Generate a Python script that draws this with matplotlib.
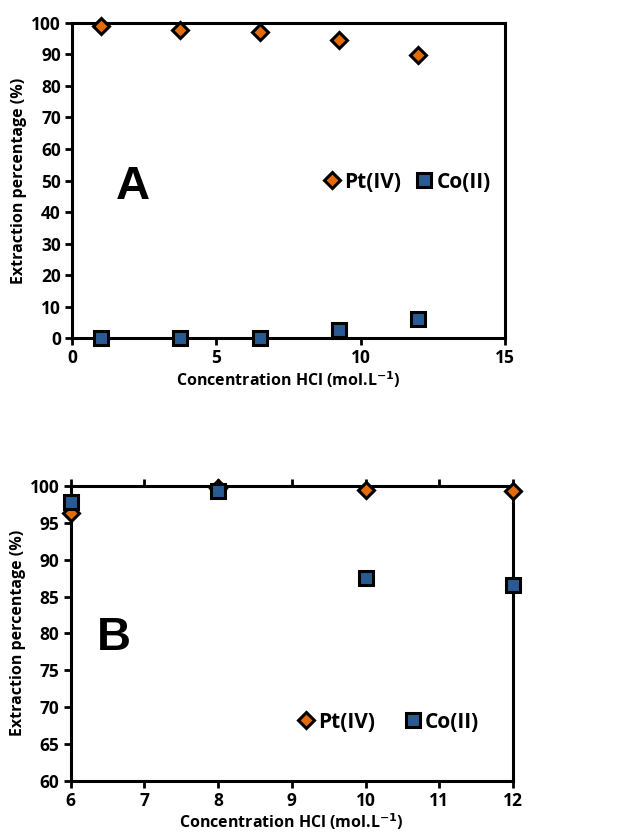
import matplotlib
matplotlib.use("Agg")
import matplotlib.pyplot as plt

plt.rcParams['font.family'] = ['Open Sans', 'DejaVu Sans']
plt.rcParams['font.weight'] = 'bold'
plt.rcParams['mathtext.default'] = 'bf'

# Panel A
hcl_a = [1.0, 3.75, 6.5, 9.25, 12.0]
pt_a = [98.9, 97.7, 97.0, 94.5, 89.8]
co_a = [0.2, 0.0, 0.0, 2.6, 6.0]

# Panel B
hcl_b = [6, 8, 10, 12]
pt_b = [96.4, 99.8, 99.4, 99.3]
co_b = [97.8, 99.3, 87.5, 86.5]

labels = ['Pt(IV)', 'Co(II)']
orange = '#E36C09'
blue = '#2A5A92'

fig = plt.figure(figsize=(6.22, 8.38), dpi=100)
axA = fig.add_axes([0.1158, 0.5963, 0.696, 0.3766])
axB = fig.add_axes([0.1137, 0.0684, 0.711, 0.3516])

mk = dict(linestyle='none', markeredgecolor='black', markeredgewidth=2.2, clip_on=False, zorder=5)

axA.plot(hcl_a, pt_a, marker='D', markersize=8.5, color=orange, label=labels[0], **mk)
axA.plot(hcl_a, co_a, marker='s', markersize=9.5, color=blue, label=labels[1], **mk)
axA.set_xlim(0, 15)
axA.set_ylim(0, 100)
axA.set_xticks([0, 5, 10, 15])
axA.set_yticks(range(0, 101, 10))
axA.text(0.14, 0.48, 'A', transform=axA.transAxes, fontsize=34, fontweight='bold',
         ha='center', va='center', family='Liberation Sans')
axA.legend(loc='center', bbox_to_anchor=(0.772, 0.495), ncol=2, frameon=False,
           fontsize=15, handletextpad=0.1, columnspacing=0.6, handlelength=1.0)

axB.plot(hcl_b, pt_b, marker='D', markersize=8.5, color=orange, label=labels[0], **mk)
axB.plot(hcl_b, co_b, marker='s', markersize=9.5, color=blue, label=labels[1], **mk)
axB.set_xlim(6, 12)
axB.set_ylim(60, 100)
axB.set_xticks(range(6, 13))
axB.set_yticks(range(60, 101, 5))
axB.text(0.097, 0.485, 'B', transform=axB.transAxes, fontsize=34, fontweight='bold',
         ha='center', va='center', family='Liberation Sans')
axB.legend(loc='center', bbox_to_anchor=(0.716, 0.199), ncol=2, frameon=False,
           fontsize=15, handletextpad=0.1, columnspacing=1.3, handlelength=1.0)
axB.tick_params(axis='x', top=True)

for ax in (axA, axB):
    for s in ax.spines.values():
        s.set_linewidth(2.2)
        s.set_color('black')
    ax.tick_params(direction='out', length=5, width=2, labelsize=12.5, pad=3)
    for lab in ax.get_xticklabels() + ax.get_yticklabels():
        lab.set_fontweight('bold')
    ax.set_ylabel('Extraction percentage (%)', fontsize=11.5, fontweight='bold', labelpad=3)
    ax.set_xlabel('Concentration HCl (mol.L$^{-1}$)', fontsize=11.5, fontweight='bold', labelpad=1)

fig.savefig('out.png', dpi=100)
